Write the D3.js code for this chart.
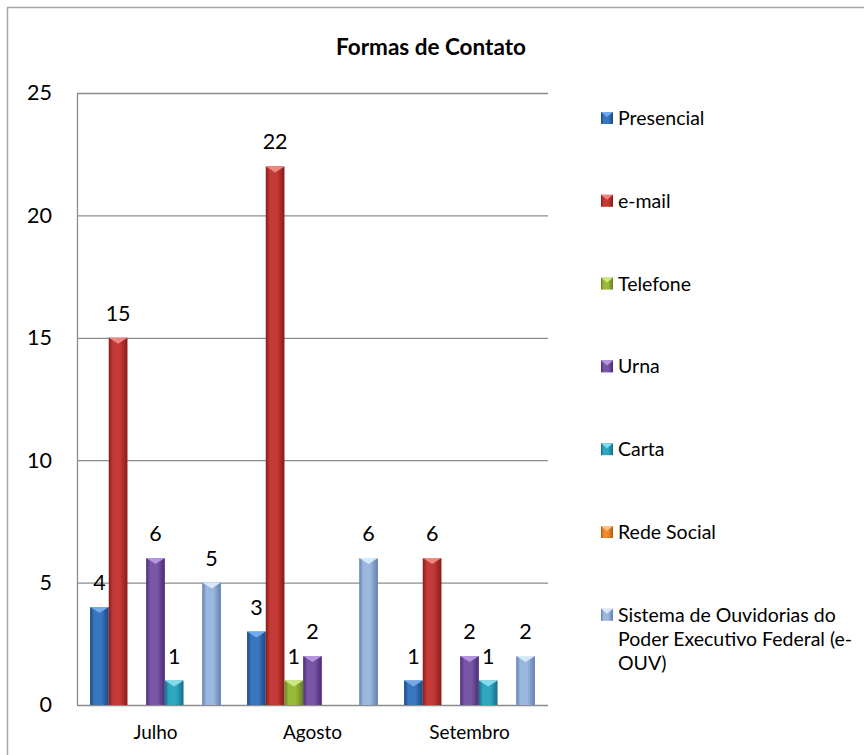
<!DOCTYPE html>
<html>
<head>
<meta charset="utf-8">
<script src="https://cdn.jsdelivr.net/npm/d3@7"></script>
<style>
  body { margin: 0; background: #fff; }
  svg { display: block; font-family: Lato, "Open Sans", sans-serif; }
</style>
</head>
<body>
<svg id="chart" width="864" height="755"></svg>
<script>
// Data
const months = ["Julho", "Agosto", "Setembro"];
const series = ["Presencial", "e-mail", "Telefone", "Urna", "Carta", "Rede Social",
	"Sistema de Ouvidorias do Poder Executivo Federal (e-OUV)"];
const presencial = [4, 3, 1];
const email = [15, 22, 6];
const telefone = [0, 1, 0];
const urna = [6, 2, 2];
const carta = [1, 0, 1];
const redeSocial = [0, 0, 0];
const eOuv = [5, 6, 2];
const yTicks = [0, 5, 10, 15, 20, 25];

const values = [presencial, email, telefone, urna, carta, redeSocial, eOuv];

// legend text broken as in the original
const legendLines = {
	"Sistema de Ouvidorias do Poder Executivo Federal (e-OUV)":
		["Sistema de Ouvidorias do", "Poder Executivo Federal (e-", "OUV)"]
};

// bevel colours: edge, centre, top facet
const palette = [
	{ edge: "#1a4880", mid: "#3877c0", top: "#74aaea" },
	{ edge: "#861b19", mid: "#c43a36", top: "#f08680" },
	{ edge: "#66821e", mid: "#9aba3c", top: "#cce880" },
	{ edge: "#4a2b74", mid: "#7956a6", top: "#b596de" },
	{ edge: "#146e86", mid: "#2fa7c0", top: "#82dcee" },
	{ edge: "#b25a0e", mid: "#f08a2c", top: "#ffc284" },
	{ edge: "#6280ae", mid: "#9bb7de", top: "#d8e8fb" }
];

const svg = d3.select("#chart");

// chart frame (cut off by the window on the right and bottom)
svg.append("rect")
	.attr("x", 7.5).attr("y", 7.5)
	.attr("width", 900).attr("height", 800)
	.attr("fill", "none")
	.attr("stroke", "#a6a6a6")
	.attr("stroke-width", 1.5);

const plot = { left: 77, right: 548, top: 93, bottom: 705 };

const y = d3.scaleLinear()
	.domain([0, 25])
	.range([plot.bottom, plot.top]);

const x0 = d3.scaleBand()
	.domain(months)
	.range([plot.left, plot.right]);

const x1 = d3.scaleBand()
	.domain(series)
	.range([0, x0.bandwidth()])
	.paddingOuter(0.7);

// gradients
const defs = svg.append("defs");
palette.forEach(function (c, i) {
	const g = defs.append("linearGradient")
		.attr("id", "grad" + i)
		.attr("x1", 0).attr("x2", 1).attr("y1", 0).attr("y2", 0);
	g.append("stop").attr("offset", "0%").attr("stop-color", c.edge);
	g.append("stop").attr("offset", "22%").attr("stop-color", c.mid);
	g.append("stop").attr("offset", "60%").attr("stop-color", c.mid);
	g.append("stop").attr("offset", "100%").attr("stop-color", c.edge);
});

// Title
svg.append("text")
	.attr("x", 431)
	.attr("y", 55)
	.attr("text-anchor", "middle")
	.attr("font-weight", "bold")
	.attr("font-size", 22.5)
	.text("Formas de Contato");

// Y axis with gridlines
const yAxis = svg.append("g")
	.attr("transform", "translate(" + plot.left + ",0)")
	.call(d3.axisLeft(y)
		.tickValues(yTicks)
		.tickSize(-(plot.right - plot.left))
		.tickSizeOuter(0)
		.tickPadding(25));
yAxis.select(".domain").attr("stroke", "#8c8c8c").attr("stroke-width", 1.3);
yAxis.selectAll(".tick line").attr("stroke", "#8c8c8c").attr("stroke-width", 1.3);
yAxis.selectAll(".tick text")
	.attr("font-size", 21.5)
	.attr("font-family", "Lato, sans-serif")
	.attr("fill", "#000");

// X axis labels
const xAxis = svg.append("g")
	.attr("transform", "translate(0," + plot.bottom + ")")
	.call(d3.axisBottom(x0).tickSize(0).tickPadding(21));
xAxis.select(".domain").remove();
xAxis.selectAll(".tick text")
	.attr("font-size", 19)
	.attr("font-family", "Lato, sans-serif")
	.attr("fill", "#000");

// Bars
const groups = svg.append("g")
	.selectAll("g")
	.data(months)
	.join("g")
	.attr("transform", function (d) { return "translate(" + x0(d) + ",0)"; });

const cells = groups.selectAll("g.bar")
	.data(function (m, mi) {
		return series.map(function (s, si) {
			return { month: m, name: s, si: si, value: values[si][mi] };
		});
	})
	.join("g")
	.attr("class", "bar");

const bars = cells.filter(function (d) { return d.value > 0; });

bars.append("rect")
	.attr("x", function (d) { return x1(d.name); })
	.attr("y", function (d) { return y(d.value); })
	.attr("width", x1.bandwidth())
	.attr("height", function (d) { return y(0) - y(d.value); })
	.attr("fill", function (d) { return "url(#grad" + d.si + ")"; });

// lighter top facet
bars.append("path")
	.attr("d", function (d) {
		const xa = x1(d.name), w = x1.bandwidth(), t = y(d.value);
		return "M" + xa + "," + t + "L" + (xa + w) + "," + t +
			"L" + (xa + w / 2) + "," + (t + 6) + "Z";
	})
	.attr("fill", function (d) { return palette[d.si].top; });

// value labels
bars.append("text")
	.attr("x", function (d) { return x1(d.name) + x1.bandwidth() / 2; })
	.attr("y", function (d) { return y(d.value) - 17; })
	.attr("text-anchor", "middle")
	.attr("font-size", 21.5)
	.text(function (d) { return d.value; });

// Legend
const legend = svg.append("g")
	.selectAll("g")
	.data(series)
	.join("g")
	.attr("transform", function (d, i) { return "translate(601," + (118 + i * 82.8) + ")"; });

legend.append("rect")
	.attr("x", 0).attr("y", -6)
	.attr("width", 12).attr("height", 12)
	.attr("fill", function (d, i) { return "url(#grad" + i + ")"; });

legend.append("path")
	.attr("d", "M0,-6L12,-6L6,-1Z")
	.attr("fill", function (d, i) { return palette[i].top; });

legend.append("text")
	.attr("x", 17)
	.attr("y", 7)
	.attr("font-size", 19.5)
	.selectAll("tspan")
	.data(function (d) { return legendLines[d] || [d]; })
	.join("tspan")
	.attr("x", 17)
	.attr("dy", function (d, i) { return i === 0 ? 0 : 24; })
	.text(function (d) { return d; });
</script>
</body>
</html>
